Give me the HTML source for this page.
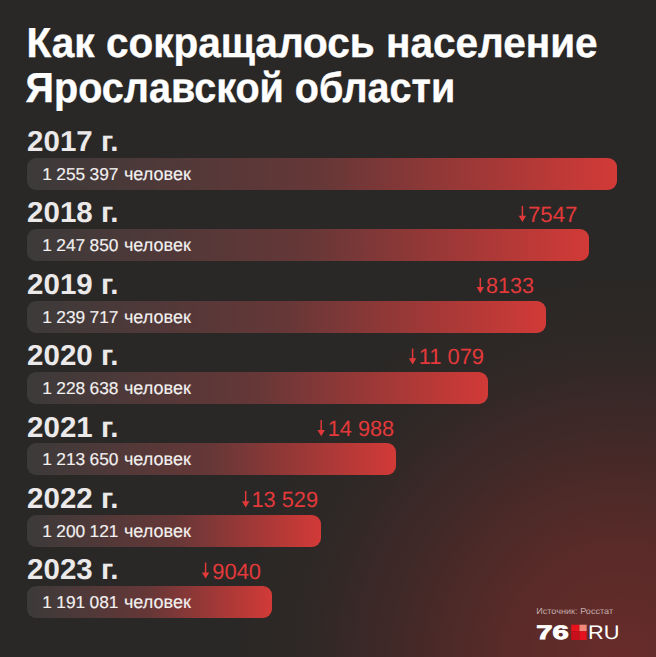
<!DOCTYPE html>
<html><head><meta charset="utf-8">
<style>
html,body{margin:0;padding:0;}
body{width:656px;height:657px;overflow:hidden;position:relative;background:#292826;font-family:"Liberation Sans",sans-serif;}
.bg{position:absolute;left:0;top:0;width:656px;height:657px;background:radial-gradient(circle at 620px 660px, rgba(104,44,42,1) 0px, rgba(100,43,41,0.8) 120px, rgba(92,42,41,0.44) 230px, rgba(80,40,40,0.12) 320px, rgba(41,40,38,0) 400px);}
.bar{position:absolute;left:27px;border-radius:9px;background:linear-gradient(90deg,#3c3a3a 0%,#663737 50%,#d23a37 100%);}
svg.o{position:absolute;left:0;top:0;}
text{font-family:"Liberation Sans",sans-serif;white-space:pre;text-rendering:geometricPrecision;}
.t{font-weight:bold;font-size:42px;fill:#ffffff;stroke:#ffffff;stroke-width:0.4px;}
.yr{font-weight:bold;font-size:28.8px;fill:#ebe9e9;stroke:#292826;stroke-width:0px;}
.popn{font-size:17.2px;word-spacing:-0.4px;fill:#f2f0f0;stroke:#f2f0f0;stroke-width:0.15px;}
.popw{font-size:18px;fill:#f2f0f0;stroke:#f2f0f0;stroke-width:0.15px;}
.dl{font-size:22px;fill:#e3393b;}
.src{font-size:8.6px;fill:#c2acaa;}
</style></head><body>
<div class="bg"></div>
<div class="bar" style="top:157.80px;width:590.0px;height:32px"></div>
<div class="bar" style="top:229.15px;width:562.2px;height:32px"></div>
<div class="bar" style="top:300.50px;width:519.3px;height:32px"></div>
<div class="bar" style="top:371.85px;width:460.8px;height:32px"></div>
<div class="bar" style="top:443.20px;width:369.4px;height:32px"></div>
<div class="bar" style="top:514.55px;width:293.9px;height:32px"></div>
<div class="bar" style="top:585.90px;width:245.2px;height:32px"></div>
<svg class="o" width="656" height="657" viewBox="0 0 656 657">
<text class="t" transform="translate(26.62,57.42) scale(0.9644,1)">Как сокращалось население</text>
<text class="t" transform="translate(25.61,101.54) scale(0.9412,1)">Ярославской области</text>
<text class="yr" transform="translate(27.12,151.10) scale(1.0245,1)">2017 г.</text>
<text class="popn" transform="translate(42.19,179.90) scale(1.0085,1)">1 255 397</text>
<text class="popw" transform="translate(123.90,179.90) scale(1.0023,1)">человек</text>
<text class="yr" transform="translate(27.12,222.45) scale(1.0245,1)">2018 г.</text>
<text class="popn" transform="translate(42.19,251.25) scale(1.0085,1)">1 247 850</text>
<text class="popw" transform="translate(123.90,251.25) scale(1.0023,1)">человек</text>
<path fill="#e3393b" d="M521.68 206.10 H523.13 V215.80 H526.10 L522.40 222.00 L518.70 215.80 H521.68 Z"/>
<text class="dl" transform="translate(527.99,221.73) scale(1.0102,1)">7547</text>
<text class="yr" transform="translate(27.12,293.80) scale(1.0245,1)">2019 г.</text>
<text class="popn" transform="translate(42.19,322.60) scale(1.0085,1)">1 239 717</text>
<text class="popw" transform="translate(123.90,322.60) scale(1.0023,1)">человек</text>
<path fill="#e3393b" d="M479.57 278.00 H481.03 V287.10 H484.00 L480.30 293.30 L476.60 287.10 H479.57 Z"/>
<text class="dl" transform="translate(486.02,292.90) scale(0.9804,1)">8133</text>
<text class="yr" transform="translate(27.12,365.15) scale(1.0245,1)">2020 г.</text>
<text class="popn" transform="translate(42.19,393.95) scale(1.0085,1)">1 228 638</text>
<text class="popw" transform="translate(123.90,393.95) scale(1.0023,1)">человек</text>
<path fill="#e3393b" d="M411.87 348.50 H413.32 V358.30 H416.30 L412.60 364.50 L408.90 358.30 H411.87 Z"/>
<text class="dl" transform="translate(418.71,364.44) scale(0.9951,1)">11 079</text>
<text class="yr" transform="translate(27.12,436.50) scale(1.0245,1)">2021 г.</text>
<text class="popn" transform="translate(42.19,465.30) scale(1.0085,1)">1 213 650</text>
<text class="popw" transform="translate(123.90,465.30) scale(1.0023,1)">человек</text>
<path fill="#e3393b" d="M320.47 420.00 H321.93 V430.00 H324.90 L321.20 436.20 L317.50 430.00 H320.47 Z"/>
<text class="dl" transform="translate(327.76,436.05) scale(0.9849,1)">14 988</text>
<text class="yr" transform="translate(27.12,507.85) scale(1.0245,1)">2022 г.</text>
<text class="popn" transform="translate(42.19,536.65) scale(1.0085,1)">1 200 121</text>
<text class="popw" transform="translate(123.90,536.65) scale(1.0023,1)">человек</text>
<path fill="#e3393b" d="M244.97 491.00 H246.42 V501.20 H249.40 L245.70 507.40 L242.00 501.20 H244.97 Z"/>
<text class="dl" transform="translate(251.49,507.42) scale(0.9885,1)">13 529</text>
<text class="yr" transform="translate(27.12,579.20) scale(1.0245,1)">2023 г.</text>
<text class="popn" transform="translate(42.19,608.00) scale(1.0085,1)">1 191 081</text>
<text class="popw" transform="translate(123.90,608.00) scale(1.0023,1)">человек</text>
<path fill="#e3393b" d="M204.88 562.50 H206.32 V572.40 H209.30 L205.60 578.60 L201.90 572.40 H204.88 Z"/>
<text class="dl" transform="translate(212.34,578.67) scale(0.9951,1)">9040</text>
<text class="src" transform="translate(536.17,613.67) scale(1.0606,1)">Источник: Росстат</text>
<g transform="translate(536,623.7)">
<text x="0.3" y="15.4" fill="#fff" stroke="#fff" stroke-width="0.9" font-weight="bold" font-size="19.5" textLength="32.5" lengthAdjust="spacingAndGlyphs">76</text>
<rect x="35.2" y="1.0" width="8.3" height="6.5" fill="#e8121c"/>
<rect x="43.5" y="1.0" width="7.2" height="6.5" fill="#f3897a"/>
<rect x="35.2" y="7.5" width="8.3" height="8.8" fill="#c8101c"/>
<rect x="43.5" y="7.5" width="7.2" height="8.8" fill="#e3121e"/>
<text x="52" y="15.4" fill="#fff" font-size="19.5" textLength="31.5" lengthAdjust="spacingAndGlyphs">RU</text>
</g>
</svg>
</body></html>
